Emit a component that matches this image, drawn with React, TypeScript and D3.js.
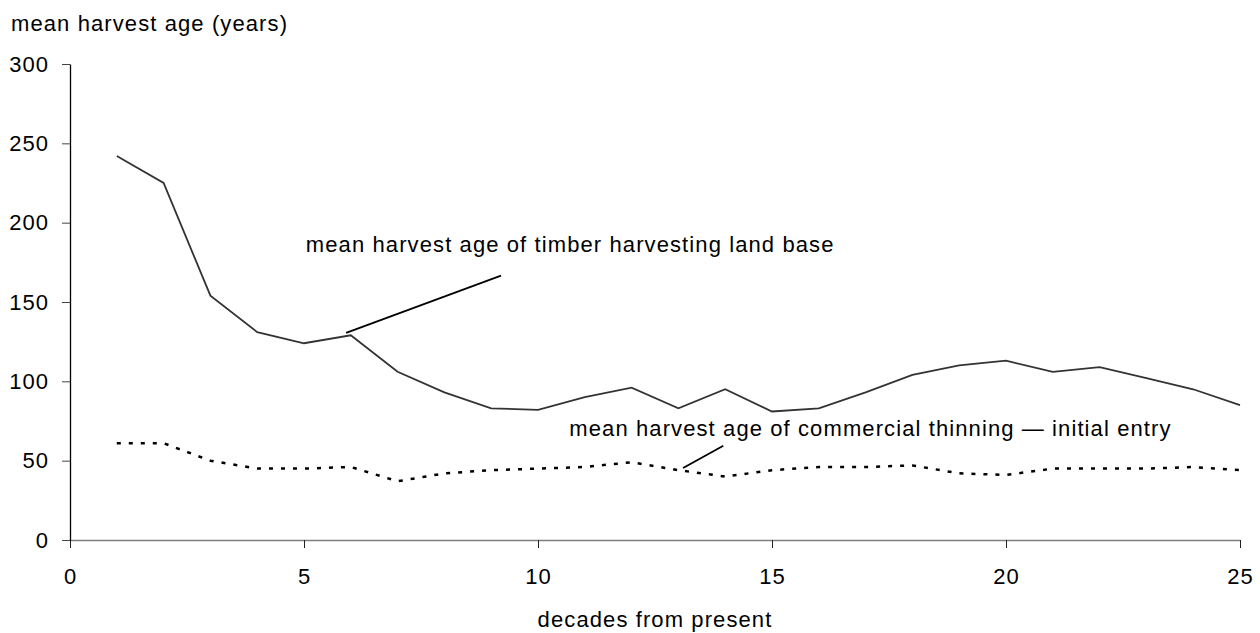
import React, { useEffect, useRef } from "react";
import * as d3 from "d3";

// values
const decades = [1, 2, 3, 4, 5, 6, 7, 8, 9, 10, 11, 12, 13, 14, 15, 16, 17, 18, 19, 20, 21, 22, 23, 24, 25];
const timberAge = [242, 225, 154, 131, 124, 129, 106, 93, 83, 82, 90, 96, 83, 95, 81, 83, 93, 104, 110, 113, 106, 109, 102, 95, 85];
const thinningAge = [61, 61, 50, 45, 45, 46, 37, 42, 44, 45, 46, 49, 44, 40, 44, 46, 46, 47, 42, 41, 45, 45, 45, 46, 44];
const xTicks = [0, 5, 10, 15, 20, 25];
const yTicks = [0, 50, 100, 150, 200, 250, 300];

const width = 1260;
const height = 633;
const margin = { top: 64, right: 20, bottom: 93, left: 70 };
const font = "'Liberation Sans', Arial, sans-serif";

export default function App() {
  const ref = useRef<SVGSVGElement>(null);

  useEffect(() => {
    const svg = d3.select(ref.current);
    svg.selectAll("*").remove();

    const x = d3.scaleLinear().domain([0, 25]).range([margin.left, width - margin.right]);
    const y = d3.scaleLinear().domain([0, 300]).range([height - margin.bottom, margin.top]);

    const timber = decades.map((d, i) => ({ d, v: timberAge[i] }));
    const thinning = decades.map((d, i) => ({ d, v: thinningAge[i] }));

    const line = d3.line<{ d: number; v: number }>()
      .x(p => x(p.d))
      .y(p => y(p.v));

    // x axis
    const gx = svg.append("g")
      .attr("transform", `translate(0, ${y(0)})`)
      .call(d3.axisBottom(x).tickValues(xTicks).tickSize(8).tickSizeOuter(0).tickPadding(20).tickFormat(d3.format("d")));
    gx.select(".domain").attr("stroke", "#808080").attr("stroke-width", 1.5);
    gx.selectAll(".tick line").attr("stroke", "#222");

    // y axis
    const gy = svg.append("g")
      .attr("transform", `translate(${x(0)}, 0)`)
      .call(d3.axisLeft(y).tickValues(yTicks).tickSize(8).tickSizeOuter(0).tickPadding(13));
    gy.select(".domain").attr("stroke", "#000").attr("stroke-width", 1.3);
    gy.selectAll(".tick line").attr("stroke", "#444");

    svg.selectAll(".tick text")
      .attr("fill", "#000")
      .style("font-family", font)
      .style("font-size", "22px")
      .style("letter-spacing", "1px");
    gy.selectAll(".tick text").attr("dy", "0.33em");

    // series
    svg.append("path")
      .datum(timber)
      .attr("fill", "none")
      .attr("stroke", "#333")
      .attr("stroke-width", 1.8)
      .attr("d", line);

    svg.append("path")
      .datum(thinning)
      .attr("fill", "none")
      .attr("stroke", "#000")
      .attr("stroke-width", 2.5)
      .attr("stroke-dasharray", "4,8")
      .attr("d", line);

    // annotations
    svg.append("line")
      .attr("x1", x(5.9)).attr("y1", y(130.5))
      .attr("x2", x(9.21)).attr("y2", y(166.6))
      .attr("stroke", "#000").attr("stroke-width", 1.8);
    svg.append("line")
      .attr("x1", x(13.1)).attr("y1", y(45.4))
      .attr("x2", x(13.96)).attr("y2", y(59.4))
      .attr("stroke", "#000").attr("stroke-width", 1.8);

    const label = (tx: number, ty: number, text: string, anchor = "start") =>
      svg.append("text")
        .attr("x", tx).attr("y", ty)
        .attr("text-anchor", anchor)
        .attr("fill", "#000")
        .style("font-family", font)
        .style("font-size", "22px")
        .style("letter-spacing", "1.1px")
        .text(text);

    label(x(5.04), y(181.7), "mean harvest age of timber harvesting land base");
    label(x(10.67), y(65.5), "mean harvest age of commercial thinning \u2014 initial entry");
    label(11, 31, "mean harvest age (years)");
    label((x(0) + x(25)) / 2, 627, "decades from present", "middle");
  }, []);

  return (
    <svg
      ref={ref}
      width={width}
      height={height}
      style={{ position: "absolute", left: 0, top: 0, background: "#fff" }}
    />
  );
}
